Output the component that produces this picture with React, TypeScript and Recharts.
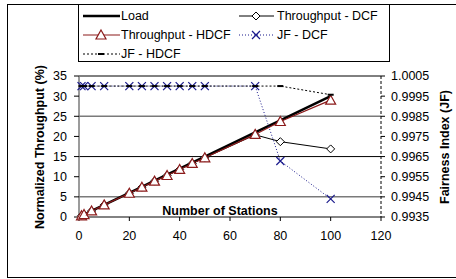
import {
  CartesianGrid,
  ComposedChart,
  Line,
  XAxis,
  YAxis,
} from "recharts";

const stations = [1, 2, 5, 10, 20, 25, 30, 35, 40, 45, 50, 70, 80, 100];
const load = [0.3, 0.6, 1.5, 3, 6, 7.5, 9, 10.5, 12, 13.5, 15, 21, 24, 30];
const thrDcf = [0.3, 0.6, 1.5, 3, 5.9, 7.4, 8.9, 10.3, 11.8, 13.3, 14.7, 20.4, 18.7, 16.9];
const thrHdcf = [0.3, 0.6, 1.5, 3, 5.9, 7.4, 8.9, 10.3, 11.8, 13.3, 14.7, 20.5, 23.7, 29.0];
const jfDcf = [1, 1, 1, 1, 1, 1, 1, 1, 1, 1, 1, 1, 0.99628, 0.9944];
const jfHdcf = [1, 1, 1, 1, 1, 1, 1, 1, 1, 1, 1, 1, 1, 0.99957];

const xTicks = [0, 20, 40, 60, 80, 100, 120];
const leftTicks = [0, 5, 10, 15, 20, 25, 30, 35];
const rightTicks = [0.9935, 0.9945, 0.9955, 0.9965, 0.9975, 0.9985, 0.9995, 1.0005];

const rows = stations.map((s, i) => ({
  stations: s,
  load: load[i],
  thrDcf: thrDcf[i],
  thrHdcf: thrHdcf[i],
  jfDcf: jfDcf[i],
  jfHdcf: jfHdcf[i],
}));

const FONT = "'Liberation Sans', Arial, sans-serif";
const RED = "#8b1a1a";
const NAVY = "#1a1a8c";
const tickStyle = { fill: "#000", fontSize: 12.5, fontFamily: FONT };

const Diamond = (p: any) => (
  <path
    key={`dm-${p.index}`}
    d={`M${p.cx},${p.cy - 4}L${p.cx + 4},${p.cy}L${p.cx},${p.cy + 4}L${p.cx - 4},${p.cy}Z`}
    fill="#fff"
    stroke="#000"
    strokeWidth={1}
  />
);

const Triangle = (p: any) => (
  <path
    key={`tr-${p.index}`}
    d={`M${p.cx},${p.cy - 5}L${p.cx + 5},${p.cy + 4}L${p.cx - 5},${p.cy + 4}Z`}
    fill="#fff"
    stroke={RED}
    strokeWidth={1.2}
  />
);

const Cross = (p: any) => (
  <path
    key={`x-${p.index}`}
    d={`M${p.cx - 4},${p.cy - 4}L${p.cx + 4},${p.cy + 4}M${p.cx + 4},${p.cy - 4}L${p.cx - 4},${p.cy + 4}`}
    stroke={NAVY}
    strokeWidth={1.2}
    fill="none"
  />
);

const Dash = (p: any) => (
  <rect key={`ds-${p.index}`} x={p.cx - 3} y={p.cy - 1} width={6} height={2} fill="#000" />
);

const GridRow = (p: any) => {
  const dark = p.index % 2 === 1 && p.index < 7;
  return (
    <line
      key={`g-${p.index}`}
      x1={p.x1}
      x2={p.x2}
      y1={p.y1}
      y2={p.y2}
      stroke={dark ? "#000" : "#7a7a7a"}
      strokeWidth={dark ? 1 : 1.5}
    />
  );
};

function LegendItem({ label, icon }: { label: string; icon: React.ReactNode }) {
  return (
    <div style={{ display: "flex", alignItems: "center", height: 19 }}>
      <svg width={38} height={14} style={{ marginRight: 1 }}>
        {icon}
      </svg>
      <span>{label}</span>
    </div>
  );
}

export default function App() {
  return (
    <div
      style={{
        position: "absolute",
        left: 0,
        top: 0,
        width: 456,
        height: 279,
        overflow: "hidden",
        background: "#fff",
        fontFamily: FONT,
      }}
    >
      <div
        style={{
          position: "absolute",
          left: 7,
          top: 4,
          width: 470,
          height: 272,
          border: "1px solid #000",
        }}
      />
      <ComposedChart
        width={456}
        height={279}
        data={rows}
        margin={{ top: 76, right: 0, bottom: 0, left: 0 }}
      >
        <CartesianGrid yAxisId="left" vertical={false} horizontal={GridRow} />
        <XAxis
          dataKey="stations"
          type="number"
          domain={[0, 120]}
          ticks={xTicks}
          height={62}
          tick={tickStyle}
          tickSize={4}
          tickMargin={10}
          axisLine={{ stroke: "#7a7a7a", strokeWidth: 1.5 }}
          tickLine={{ stroke: "#000" }}
        />
        <YAxis
          yAxisId="left"
          domain={[0, 35]}
          ticks={leftTicks}
          width={79}
          tick={tickStyle}
          tickSize={5}
          tickMargin={7}
          axisLine={{ stroke: "#7a7a7a", strokeWidth: 1.5 }}
          tickLine={{ stroke: "#000" }}
        />
        <YAxis
          yAxisId="right"
          orientation="right"
          domain={[0.9935, 1.0005]}
          ticks={rightTicks}
          tickFormatter={(v: number) => v.toFixed(4)}
          width={75}
          tick={tickStyle}
          tickSize={4}
          tickMargin={6}
          axisLine={{ stroke: "#000", strokeDasharray: "3 2" }}
          tickLine={{ stroke: "#000" }}
        />
        <Line
          yAxisId="left"
          dataKey="load"
          stroke="#000"
          strokeWidth={2.5}
          dot={false}
          isAnimationActive={false}
        />
        <Line
          yAxisId="left"
          dataKey="thrDcf"
          stroke="#000"
          strokeWidth={1}
          dot={Diamond}
          isAnimationActive={false}
        />
        <Line
          yAxisId="left"
          dataKey="thrHdcf"
          stroke={RED}
          strokeWidth={1.2}
          dot={Triangle}
          isAnimationActive={false}
        />
        <Line
          yAxisId="right"
          dataKey="jfDcf"
          stroke={NAVY}
          strokeWidth={1}
          strokeDasharray="1 2"
          dot={Cross}
          isAnimationActive={false}
        />
        <Line
          yAxisId="right"
          dataKey="jfHdcf"
          stroke="#000"
          strokeWidth={1}
          strokeDasharray="2 2"
          dot={Dash}
          isAnimationActive={false}
        />
      </ComposedChart>

      <svg
        width={456}
        height={279}
        style={{ position: "absolute", left: 0, top: 0, pointerEvents: "none" }}
      >
        <text
          x={220}
          y={215}
          textAnchor="middle"
          fontFamily={FONT}
          fontSize={12.5}
          fontWeight="bold"
        >
          Number of Stations
        </text>
        <text
          transform="translate(44,147) rotate(-90)"
          textAnchor="middle"
          fontFamily={FONT}
          fontSize={12.5}
          fontWeight="bold"
        >
          Normalized Throughput (%)
        </text>
        <text
          transform="translate(449,147) rotate(-90)"
          textAnchor="middle"
          fontFamily={FONT}
          fontSize={12.5}
          fontWeight="bold"
        >
          Fairness Index (JF)
        </text>
      </svg>

      <div
        style={{
          position: "absolute",
          left: 78,
          top: 4,
          width: 312,
          height: 58,
          border: "1px solid #000",
          background: "#fff",
          fontSize: 12.5,
          color: "#000",
          boxSizing: "border-box",
        }}
      >
        <div style={{ position: "absolute", left: 3, top: 1 }}>
          <LegendItem label="Load" icon={<line x1={1} x2={38} y1={7} y2={7} stroke="#000" strokeWidth={2.5} />} />
          <LegendItem
            label="Throughput - HDCF"
            icon={
              <g>
                <line x1={1} x2={38} y1={7} y2={7} stroke={RED} strokeWidth={1.2} />
                <Triangle cx={19} cy={7} index={0} />
              </g>
            }
          />
          <LegendItem
            label="JF - HDCF"
            icon={
              <g>
                <line x1={1} x2={38} y1={7} y2={7} stroke="#000" strokeDasharray="2 2" />
                <Dash cx={19} cy={7} index={0} />
              </g>
            }
          />
        </div>
        <div style={{ position: "absolute", left: 159, top: 1 }}>
          <LegendItem
            label="Throughput - DCF"
            icon={
              <g>
                <line x1={1} x2={36} y1={7} y2={7} stroke="#000" />
                <Diamond cx={18} cy={7} index={0} />
              </g>
            }
          />
          <LegendItem
            label="JF - DCF"
            icon={
              <g>
                <line x1={1} x2={36} y1={7} y2={7} stroke={NAVY} strokeDasharray="1 2" />
                <Cross cx={18} cy={7} index={0} />
              </g>
            }
          />
        </div>
      </div>
    </div>
  );
}
